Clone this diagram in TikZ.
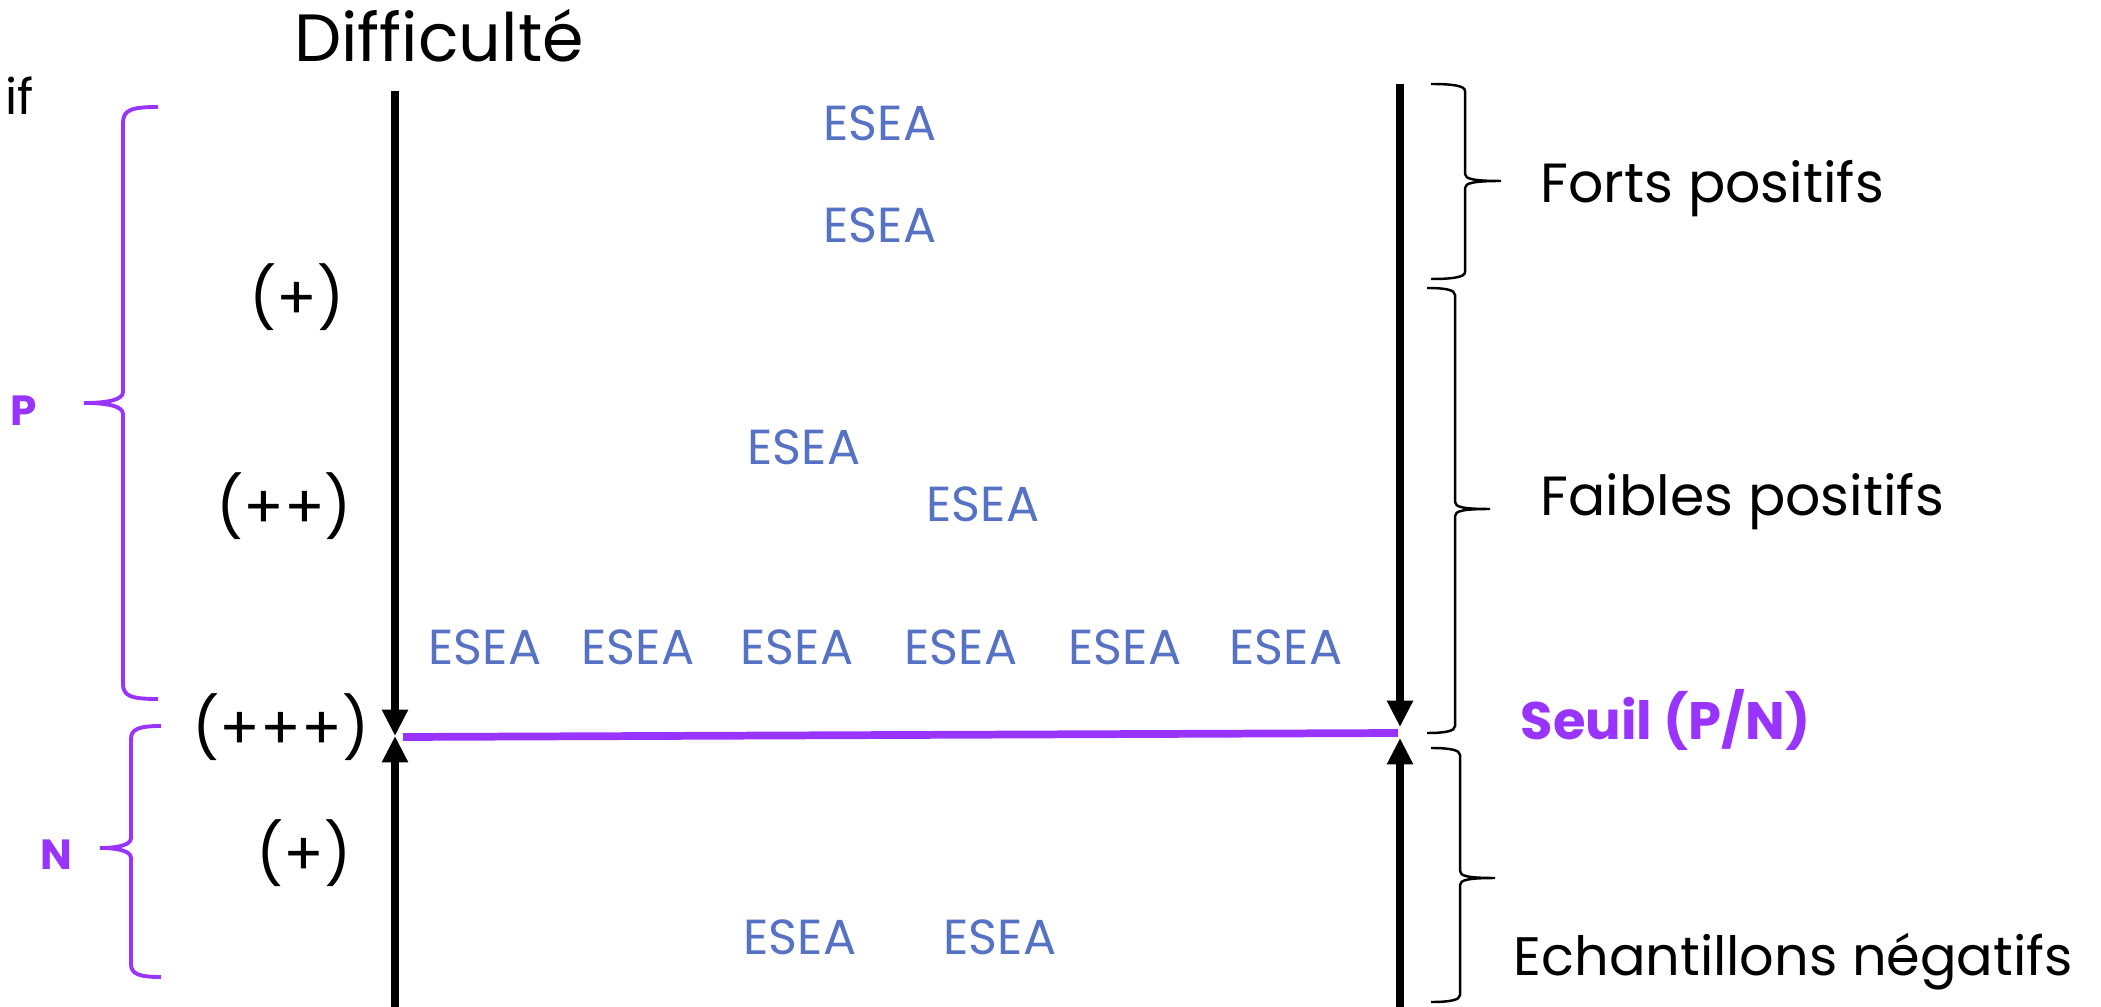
\documentclass[tikz,border=0pt]{standalone}
\usepackage{fontspec}
\setmainfont{Poppins}
\usepackage{tikz}
\definecolor{seuilcol}{RGB}{153,52,252}
\definecolor{eseacol}{RGB}{86,114,196}
\tikzstyle{esea}=[text=eseacol, inner sep=0pt, font=\fontsize{14}{16}\selectfont]
\tikzstyle{lab}=[inner sep=0pt, font=\fontsize{17}{20}\selectfont]
\tikzstyle{cat}=[anchor=west, inner sep=0pt, font=\fontsize{15.7}{18}\selectfont]
\tikzstyle{axe}=[line width=2.1pt,-{Triangle[length=7.5pt,width=7pt]}]
\tikzstyle{pbrace}=[seuilcol, line width=1.1pt]
\tikzstyle{kbrace}=[black, line width=0.7pt]
\usetikzlibrary{arrows.meta,positioning}

\begin{document}
\begin{tikzpicture}[x=0.01cm,y=-0.01cm]
\useasboundingbox (0,0) rectangle (2101,1007);
\node (diff) [inner sep=0pt,font=\fontsize{19}{22}\selectfont] at (439,36) {Difficulté};
\node (cut) [anchor=north west,inner sep=0pt,font=\fontsize{14}{16}\selectfont] at (5,76) {if};
% axes
\coordinate (ltop) at (395,91);
\coordinate (lmid) at (395,736);
\coordinate (lbot) at (395,1020);
\coordinate (rtop) at (1400,84);
\coordinate (rdown) at (1400,727);
\coordinate (rup) at (1400,738);
\coordinate (rbot) at (1400,1020);
\draw[axe] (ltop)--(lmid);
\draw[axe] (lbot)--(lmid);
\draw[axe] (rtop)--(rdown);
\draw[axe] (rbot)--(rup);
\coordinate (sl) at (403,737);
\coordinate (sr) at (1398,733);
\draw[seuilcol,line width=2.2pt] (sl)--(sr);
% niveaux
\node (p1) [lab] at (297,297) {(+)};
\node (p2) [lab] at (284,506) {(++)};
\node (p3) [lab] at (281,727) {(+++)};
\node (n1) [lab] at (304,853) {(+)};
% echantillons
\node (e1) [esea] at (880,123) {ESEA};
\node (e2) [esea] at (880,225) {ESEA};
\node (e3) [esea] at (804,447) {ESEA};
\node (e4) [esea] at (983,504) {ESEA};
\node (e5) [esea] at (485,647) {ESEA};
\node (e6) [esea] at (638,647) {ESEA};
\node (e7) [esea] at (797,647) {ESEA};
\node (e8) [esea] at (961,647) {ESEA};
\node (e9) [esea] at (1125,647) {ESEA};
\node (e10) [esea] at (1286,647) {ESEA};
\node (e11) [esea] at (800,937) {ESEA};
\node (e12) [esea] at (1000,937) {ESEA};
% accolades P / N
\coordinate (pt) at (158,107);
\coordinate (pb) at (158,699);
\coordinate (nt) at (161,726);
\coordinate (nb) at (161,977);
\draw[pbrace] (pt) .. controls (131,107) and (123,110) .. (123,123) -- (123,392)
  .. controls (123,400) and (107,403) .. (84,403) .. controls (107,403) and (123,406) .. (123,414)
  -- (123,684) .. controls (123,696) and (131,699) .. (pb);
\draw[pbrace] (nt) .. controls (139,726) and (131,729) .. (131,739) -- (131,838)
  .. controls (131,845) and (118,848) .. (100,848) .. controls (118,848) and (131,851) .. (131,858)
  -- (131,964) .. controls (131,974) and (139,977) .. (nb);
\node (P) [text=seuilcol,inner sep=0pt,font=\fontsize{12}{14}\selectfont\bfseries] at (24,411) {P};
\node (N) [text=seuilcol,inner sep=0pt,font=\fontsize{12}{14}\selectfont\bfseries] at (56,855) {N};
% accolades droite
\coordinate (f1t) at (1431,84);
\coordinate (f1b) at (1431,279);
\coordinate (f2t) at (1427,288);
\coordinate (f2b) at (1427,733);
\coordinate (f3t) at (1431,748);
\coordinate (f3b) at (1431,1002);
\draw[kbrace] (f1t) .. controls (1454,84) and (1465,86) .. (1465,91) -- (1465,174)
  .. controls (1465,179) and (1474,181) .. (1501,181) .. controls (1474,181) and (1465,183) .. (1465,188)
  -- (1465,272) .. controls (1465,277) and (1454,279) .. (f1b);
\draw[kbrace] (f2t) .. controls (1446,288) and (1455,290) .. (1455,295) -- (1455,502)
  .. controls (1455,507) and (1463,509) .. (1490,509) .. controls (1463,509) and (1455,511) .. (1455,516)
  -- (1455,726) .. controls (1455,731) and (1446,733) .. (f2b);
\draw[kbrace] (f3t) .. controls (1450,748) and (1460,750) .. (1460,755) -- (1460,871)
  .. controls (1460,876) and (1468,878) .. (1495,878) .. controls (1468,878) and (1460,880) .. (1460,885)
  -- (1460,995) .. controls (1460,1000) and (1450,1002) .. (f3b);
\node (forts) [cat] at (1540,189) {Forts positifs};
\node (faibles) [cat] at (1540,502) {Faibles positifs};
\node (seuil) [cat,text=seuilcol,font=\fontsize{15}{18}\selectfont\bfseries] at (1520,720) {Seuil (P/N)};
\node (neg) [cat,font=\fontsize{15.4}{18}\selectfont] at (1513,962) {Echantillons négatifs};
\end{tikzpicture}
\end{document}
